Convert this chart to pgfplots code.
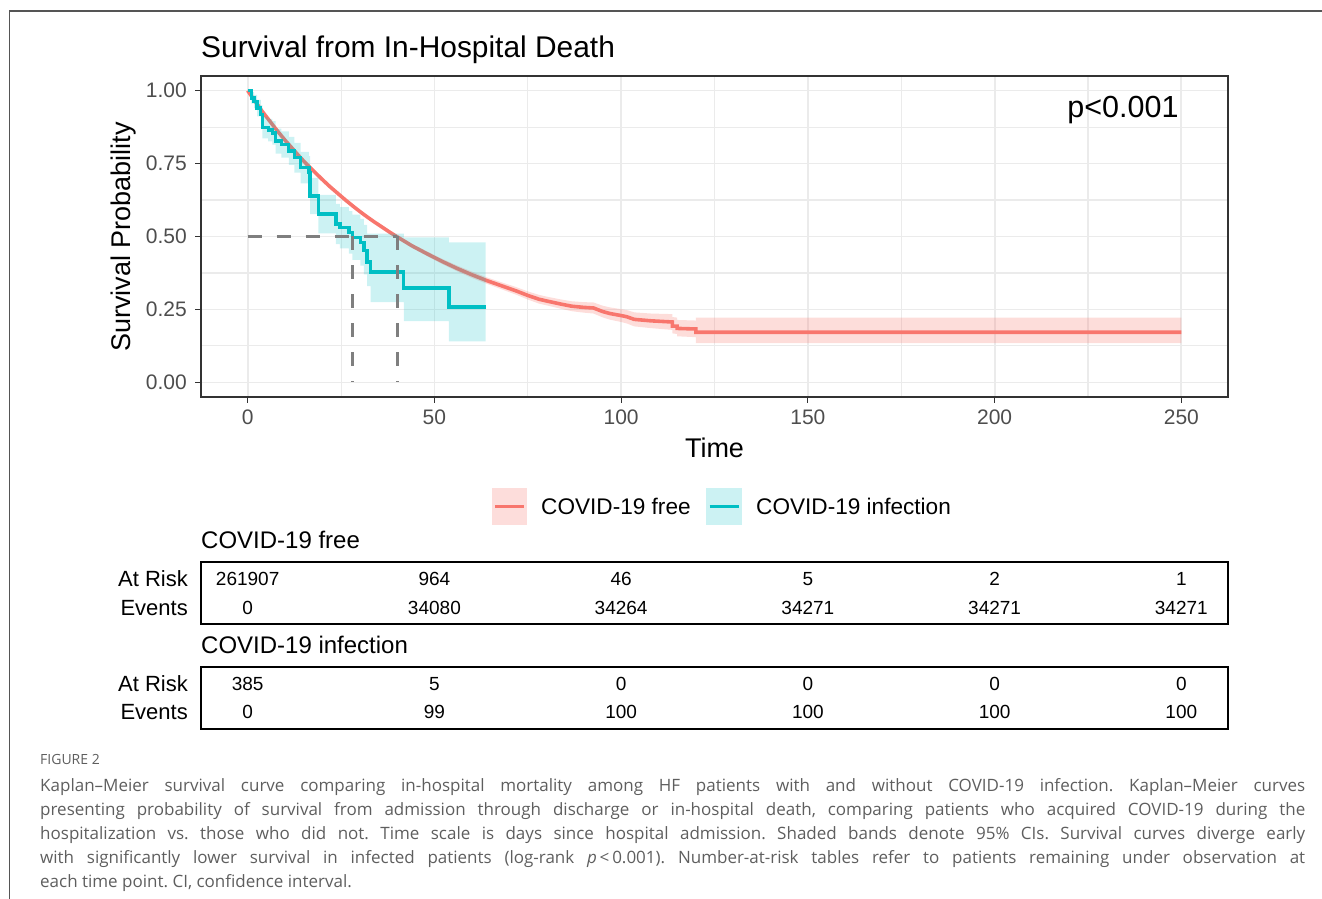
\documentclass[border=0pt]{standalone}
\usepackage{fontspec}
\setmainfont{Liberation Sans}
\newfontfamily\capfont{Open Sans}
\usepackage{pgfplots}
\usepackage{pgfplotstable}
\pgfplotsset{compat=1.18}
\definecolor{kmred}{HTML}{F8766D}
\definecolor{kmteal}{HTML}{00BFC4}
\definecolor{grid92}{HTML}{EBEBEB}
\definecolor{gray20}{HTML}{333333}
\definecolor{gray30}{HTML}{4D4D4D}
\definecolor{capgray}{HTML}{5E5E5E}
\definecolor{medgray}{HTML}{7F7F7F}
\definecolor{framegray}{HTML}{555555}
\newcommand\fs[1]{\fontsize{#1}{#1}\selectfont}
\frenchspacing

% COVID-19 free: time, survival
\pgfplotstableread{
t S
0 1.000
2 0.963
4 0.927
6 0.894
8 0.861
10 0.830
12 0.801
14 0.772
16 0.745
18 0.720
20 0.695
22 0.671
24 0.649
26 0.627
28 0.606
30 0.586
32 0.567
34 0.549
36 0.532
38 0.515
40 0.499
44 0.468
48 0.441
52 0.415
56 0.391
60 0.369
64 0.349
68 0.331
72 0.313
75 0.298
78 0.285
80.4 0.278
84 0.268
86.8 0.261
90 0.257
92.6 0.255
95 0.243
97 0.236
100 0.229
101.5 0.225
103.5 0.216
108 0.211
113.7 0.207
113.7 0.193
115 0.193
115 0.185
120 0.183
120 0.172
250 0.172
}\freetab

% COVID-19 infection: step function (value holds from t onward)
\pgfplotstableread{
t S
0 1.000
1.0 0.975
1.7 0.963
2.5 0.940
3.5 0.918
3.9 0.873
5.5 0.865
6.6 0.855
7.5 0.827
9.0 0.815
11.0 0.793
12.5 0.770
14.2 0.736
16.4 0.719
16.7 0.639
18.9 0.577
23.6 0.543
24.7 0.530
27.1 0.514
28.0 0.497
30.2 0.480
31.1 0.452
32.0 0.412
32.9 0.378
41.8 0.323
53.9 0.258
63.7 0.258
}\inftab

\begin{document}
\begin{tikzpicture}[x=1pt,y=1pt]
\path[use as bounding box] (0pt,0pt) rectangle (1322pt,899pt);
\draw[framegray, line width=1.4pt] (9.5pt,0pt) -- (9.5pt,888pt) -- (1322pt,888pt);

% title
\node[anchor=base west, inner sep=0pt, font=\fs{29.9}] at (201pt,841.5pt) {Survival from In-Hospital Death};

\begin{axis}[
  at={(201pt,502pt)}, anchor=south west, scale only axis,
  width=1027pt, height=321pt,
  xmin=-12.5, xmax=262.5, ymin=-0.05, ymax=1.05,
  xtick={0,50,100,150,200,250},
  minor xtick={25,75,125,175,225},
  ytick={0,0.25,0.5,0.75,1},
  minor ytick={0.125,0.375,0.625,0.875},
  yticklabels={0.00,0.25,0.50,0.75,1.00},
  grid=both,
  major grid style={draw=grid92, line width=1.8pt},
  minor grid style={draw=grid92, line width=1.1pt},
  axis line style={draw=gray20, line width=1.1pt},
  tick align=outside, xtick pos=bottom, ytick pos=left,
  major tick length=6pt, minor tick length=0pt,
  tick style={draw=gray20, line width=1.1pt},
  ticklabel style={font=\fs{21}, text=gray30, inner sep=0pt},
  xticklabel style={anchor=north, yshift=-7pt},
  yticklabel style={anchor=east, xshift=-8pt},
  /pgf/number format/assume math mode=true,
]
% COVID-19 free: 95% CI band (upper forward, lower backward)
\addplot[draw=none, fill=kmred, fill opacity=0.25] coordinates {
(0,1.000)(2,0.966)(4,0.931)(6,0.898)(8,0.865)(10,0.834)(12,0.805)(14,0.776)(16,0.749)(18,0.724)(20,0.699)(22,0.675)(24,0.653)(26,0.631)(28,0.611)(30,0.591)(32,0.572)(34,0.554)(36,0.538)(38,0.521)(40,0.505)(44,0.475)(48,0.449)(52,0.424)(56,0.401)(60,0.380)(64,0.360)(68,0.343)(72,0.326)(75,0.312)(78,0.300)(80.4,0.293)(84,0.284)(86.8,0.278)(90,0.275)(92.6,0.274)(95,0.263)(97,0.257)(100,0.251)(101.5,0.248)(103.5,0.240)(108,0.236)(113.7,0.234)(113.7,0.224)(115,0.222)(115,0.214)(120,0.212)(120,0.222)(250,0.222)
(250,0.135)(120,0.135)(120,0.155)(115,0.158)(115,0.166)(113.7,0.168)(113.7,0.180)(108,0.186)(103.5,0.192)(101.5,0.202)(100,0.207)(97,0.215)(95,0.223)(92.6,0.236)(90,0.239)(86.8,0.244)(84,0.252)(80.4,0.263)(78,0.270)(75,0.284)(72,0.300)(68,0.319)(64,0.338)(60,0.358)(56,0.381)(52,0.406)(48,0.433)(44,0.461)(40,0.493)(38,0.509)(36,0.526)(34,0.544)(32,0.562)(30,0.581)(28,0.601)(26,0.623)(24,0.645)(22,0.667)(20,0.691)(18,0.716)(16,0.741)(14,0.768)(12,0.797)(10,0.826)(8,0.857)(6,0.890)(4,0.923)(2,0.960)(0,1.000)
} -- cycle;
\addplot[kmred, line width=3.6pt] table[x=t,y=S]{\freetab};
% COVID-19 infection: 95% CI band (steps)
\addplot[draw=none, fill=kmteal, fill opacity=0.2] coordinates {
(0,1.000)(1.0,1.000)(1.0,0.995)(1.7,0.995)(1.7,0.985)(2.5,0.985)(2.5,0.968)(3.5,0.968)(3.5,0.950)(3.9,0.950)(3.9,0.910)(5.5,0.910)(5.5,0.903)(6.6,0.903)(6.6,0.895)(7.5,0.895)(7.5,0.870)(9.0,0.870)(9.0,0.860)(11.0,0.860)(11.0,0.841)(12.5,0.841)(12.5,0.821)(14.2,0.821)(14.2,0.790)(16.4,0.790)(16.4,0.775)(16.7,0.775)(16.7,0.701)(18.9,0.701)(18.9,0.643)(23.6,0.643)(23.6,0.612)(24.7,0.612)(24.7,0.601)(27.1,0.601)(27.1,0.587)(28.0,0.587)(28.0,0.575)(30.2,0.575)(30.2,0.560)(31.1,0.560)(31.1,0.540)(32.0,0.540)(32.0,0.510)(41.8,0.510)(41.8,0.497)(53.9,0.497)(53.9,0.480)(63.7,0.480)
(63.7,0.141)(53.9,0.141)(53.9,0.210)(41.8,0.210)(41.8,0.275)(32.9,0.275)(32.9,0.330)(32.0,0.330)(32.0,0.370)(31.1,0.370)(31.1,0.400)(30.2,0.400)(30.2,0.420)(28.0,0.420)(28.0,0.441)(27.1,0.441)(27.1,0.459)(24.7,0.459)(24.7,0.474)(23.6,0.474)(23.6,0.511)(18.9,0.511)(18.9,0.577)(16.7,0.577)(16.7,0.663)(16.4,0.663)(16.4,0.682)(14.2,0.682)(14.2,0.719)(12.5,0.719)(12.5,0.745)(11.0,0.745)(11.0,0.770)(9.0,0.770)(9.0,0.784)(7.5,0.784)(7.5,0.815)(6.6,0.815)(6.6,0.826)(5.5,0.826)(5.5,0.836)(3.9,0.836)(3.9,0.885)(3.5,0.885)(3.5,0.912)(2.5,0.912)(2.5,0.940)(1.7,0.940)(1.7,0.955)(1.0,0.955)(1.0,1.000)(0,1.000)
} -- cycle;
\addplot[kmteal, line width=3.4pt, const plot] table[x=t,y=S]{\inftab};
% median lines
\addplot[medgray, line width=3pt, dash pattern=on 14pt off 15pt] coordinates {(0,0.5) (40.1,0.5)};
\addplot[medgray, line width=3pt, dash pattern=on 14pt off 15pt] coordinates {(28,0.5) (28,0)};
\addplot[medgray, line width=3pt, dash pattern=on 14pt off 15pt] coordinates {(40.1,0.5) (40.1,0)};
\node[anchor=base east, inner sep=0pt, font=\fs{30.5}] at (axis cs:249.3,0.908) {p<0.001};
\end{axis}

% axis labels
\node[rotate=90, inner sep=0pt, font=\fs{27}] at (124pt,662pt) {Survival Probability};
\node[anchor=base, inner sep=0pt, font=\fs{27}] at (714.5pt,441pt) {Time};

% legend
\fill[kmred!25] (491.7pt,374pt) rectangle (527.3pt,410.7pt);
\draw[kmred, line width=3.4pt] (495pt,392.3pt) -- (524pt,392.3pt);
\node[anchor=base west, inner sep=0pt, font=\fs{22.6}] at (541pt,384pt) {COVID-19 free};
\fill[kmteal!20] (706pt,374pt) rectangle (741.7pt,410.7pt);
\draw[kmteal, line width=3.4pt] (709.5pt,392.3pt) -- (738.5pt,392.3pt);
\node[anchor=base west, inner sep=0pt, font=\fs{22.6}] at (756pt,384pt) {COVID-19 infection};

% risk table: COVID-19 free
\node[anchor=base west, inner sep=0pt, font=\fs{24}] at (201pt,350.5pt) {COVID-19 free};
\begin{axis}[
  at={(201pt,275pt)}, anchor=south west, scale only axis,
  width=1027pt, height=62pt,
  xmin=-12.5, xmax=262.5, ymin=0, ymax=62,
  xtick=\empty, ytick={16,45}, yticklabels={Events,At Risk},
  major tick length=0pt, ytick pos=left,
  axis line style={black, line width=1.3pt},
  yticklabel style={font=\fs{22}, anchor=east, inner sep=0pt, xshift=-13pt},
  clip=false,
]
\addplot[draw=none] coordinates {(0,0) (250,62)};
\node[font=\fs{19}] at (axis cs:0,45) {261907};
\node[font=\fs{19}] at (axis cs:50,45) {964};
\node[font=\fs{19}] at (axis cs:100,45) {46};
\node[font=\fs{19}] at (axis cs:150,45) {5};
\node[font=\fs{19}] at (axis cs:200,45) {2};
\node[font=\fs{19}] at (axis cs:250,45) {1};
\node[font=\fs{19}] at (axis cs:0,16) {0};
\node[font=\fs{19}] at (axis cs:50,16) {34080};
\node[font=\fs{19}] at (axis cs:100,16) {34264};
\node[font=\fs{19}] at (axis cs:150,16) {34271};
\node[font=\fs{19}] at (axis cs:200,16) {34271};
\node[font=\fs{19}] at (axis cs:250,16) {34271};
\end{axis}

% risk table: COVID-19 infection
\node[anchor=base west, inner sep=0pt, font=\fs{24}] at (201pt,245.5pt) {COVID-19 infection};
\begin{axis}[
  at={(201pt,170pt)}, anchor=south west, scale only axis,
  width=1027pt, height=62pt,
  xmin=-12.5, xmax=262.5, ymin=0, ymax=62,
  xtick=\empty, ytick={17,45}, yticklabels={Events,At Risk},
  major tick length=0pt, ytick pos=left,
  axis line style={black, line width=1.3pt},
  yticklabel style={font=\fs{22}, anchor=east, inner sep=0pt, xshift=-13pt},
  clip=false,
]
\addplot[draw=none] coordinates {(0,0) (250,62)};
\node[font=\fs{19}] at (axis cs:0,45) {385};
\node[font=\fs{19}] at (axis cs:50,45) {5};
\node[font=\fs{19}] at (axis cs:100,45) {0};
\node[font=\fs{19}] at (axis cs:150,45) {0};
\node[font=\fs{19}] at (axis cs:200,45) {0};
\node[font=\fs{19}] at (axis cs:250,45) {0};
\node[font=\fs{19}] at (axis cs:0,17) {0};
\node[font=\fs{19}] at (axis cs:50,17) {99};
\node[font=\fs{19}] at (axis cs:100,17) {100};
\node[font=\fs{19}] at (axis cs:150,17) {100};
\node[font=\fs{19}] at (axis cs:200,17) {100};
\node[font=\fs{19}] at (axis cs:250,17) {100};
\end{axis}

% caption
\node[anchor=base west, inner sep=0pt, text=capgray, font=\capfont\fs{14}] at (40pt,134pt) {FIGURE 2};
\node[anchor=base west, inner sep=0pt, text=capgray, font=\capfont\fs{17}] at (40pt,107pt) {\makebox[1265pt][s]{Kaplan–Meier survival curve comparing in-hospital mortality among HF patients with and without COVID-19 infection. Kaplan–Meier curves}};
\node[anchor=base west, inner sep=0pt, text=capgray, font=\capfont\fs{17}] at (40pt,83pt) {\makebox[1265pt][s]{presenting probability of survival from admission through discharge or in-hospital death, comparing patients who acquired COVID-19 during the}};
\node[anchor=base west, inner sep=0pt, text=capgray, font=\capfont\fs{17}] at (40pt,59pt) {\makebox[1265pt][s]{hospitalization vs. those who did not. Time scale is days since hospital admission. Shaded bands denote 95\% CIs. Survival curves diverge early}};
\node[anchor=base west, inner sep=0pt, text=capgray, font=\capfont\fs{17}] at (40pt,35pt) {\makebox[1265pt][s]{with significantly lower survival in infected patients (log-rank \textit{p}\,<\,0.001). Number-at-risk tables refer to patients remaining under observation at}};
\node[anchor=base west, inner sep=0pt, text=capgray, font=\capfont\fs{17}] at (40pt,11pt) {each time point. CI, confidence interval.};
\end{tikzpicture}
\end{document}
